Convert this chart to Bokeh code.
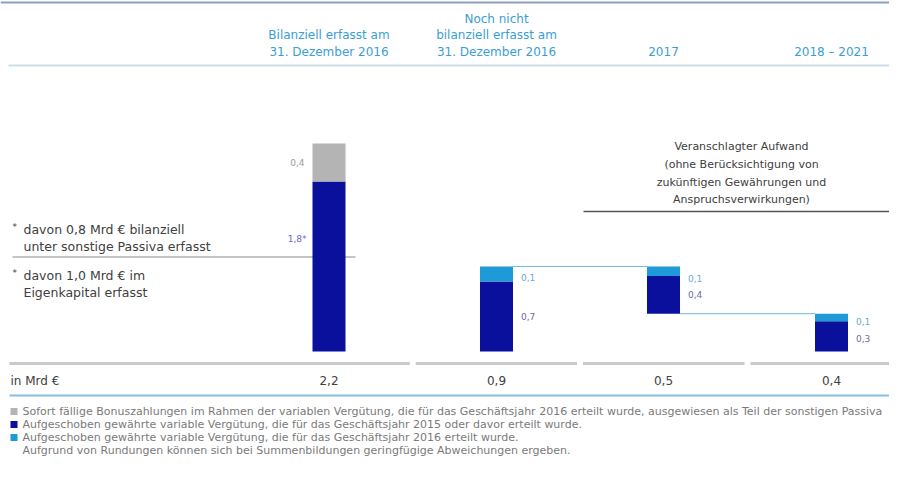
from bokeh.plotting import figure
from bokeh.models import Range1d, ColumnDataSource
from bokeh.core.properties import value
from bokeh.embed import file_html
from bokeh.resources import INLINE

# ---------------- data ----------------
categories = ["Bilanziell erfasst am\n31. Dezember 2016",
              "Noch nicht\nbilanziell erfasst am\n31. Dezember 2016",
              "2017", "2018 – 2021"]
base_vals = [0.0, 0.0, 0.40, 0.0]
gray_vals = [0.40, 0.0, 0.0, 0.0]
dark_vals = [1.80, 0.74, 0.40, 0.32]
light_vals = [0.0, 0.16, 0.10, 0.08]
gray_labels = ["0,4", "", "", ""]
dark_labels = ["1,8*", "0,7", "0,4", "0,3"]
light_labels = ["", "0,1", "0,1", "0,1"]
totals = ["2,2", "0,9", "0,5", "0,4"]
split_value = 1.0  # 1,0 Mrd € im Eigenkapital

legend_items = [
    "Sofort fällige Bonuszahlungen im Rahmen der variablen Vergütung, die für das Geschäftsjahr 2016 erteilt wurde, ausgewiesen als Teil der sonstigen Passiva",
    "Aufgeschoben gewährte variable Vergütung, die für das Geschäftsjahr 2015 oder davor erteilt wurde.",
    "Aufgeschoben gewährte variable Vergütung, die für das Geschäftsjahr 2016 erteilt wurde.",
]
footnote = "Aufgrund von Rundungen können sich bei Summenbildungen geringfügige Abweichungen ergeben."
note_upper = ["davon 0,8 Mrd € bilanziell", "unter sonstige Passiva erfasst"]
note_lower = ["davon 1,0 Mrd € im", "Eigenkapital erfasst"]
annotation = ["Veranschlagter Aufwand", "(ohne Berücksichtigung von",
              "zukünftigen Gewährungen und", "Anspruchsverwirkungen)"]
unit_label = "in Mrd €"

# ---------------- style / layout ----------------
FONT = value("DejaVu Sans")
DARK = "#0a0f9c"
LIGHT = "#1f9ad9"
GRAY = "#b4b4b4"
HEAD = "#3a9ed4"
TXT = "#404040"

W, H = 889, 461
centers = [328.5, 496, 663, 831]
bar_w = 33
base_px = 351.0
px_per_unit = 94.5

p = figure(width=W, height=H, output_backend="svg", toolbar_location=None,
           x_range=Range1d(0, W), y_range=Range1d(H, 0),
           min_border=0, outline_line_color=None)
p.xaxis.visible = False
p.yaxis.visible = False
p.grid.visible = False
p.background_fill_color = "white"

# value range (bars) mapped onto the same pixels
v_bottom = -(H - base_px) / px_per_unit
v_top = base_px / px_per_unit
p.extra_y_ranges = {"val": Range1d(v_bottom, v_top)}

# top rules
p.segment(x0=[0], x1=[W], y0=[2], y1=[2], line_color="#8d9fbf", line_width=2)
p.segment(x0=[8], x1=[W], y0=[65], y1=[65], line_color="#cbdde6", line_width=2)

# header texts
head_lines = [c.split("\n") for c in categories]
for cx, lines in zip(centers, head_lines):
    n = len(lines)
    ys = [51 - 16.5 * (n - 1 - i) for i in range(n)]
    p.text(x=[cx] * n, y=ys, text=lines, text_align="center", text_baseline="middle",
           text_font=FONT, text_font_size="12px", text_color=HEAD)

# annotation block
p.text(x=[741] * 4, y=[146, 164, 182, 199], text=annotation, text_align="center",
       text_baseline="middle", text_font=FONT, text_font_size="11px", text_color=TXT)
p.segment(x0=[583], x1=[W], y0=[211], y1=[211], line_color="#555555", line_width=1.5)

# left notes
p.text(x=[23, 23], y=[229, 246], text=note_upper, text_align="left", text_baseline="middle",
       text_font=FONT, text_font_size="12.5px", text_color=TXT)
p.text(x=[23, 23], y=[275, 292], text=note_lower, text_align="left", text_baseline="middle",
       text_font=FONT, text_font_size="12.5px", text_color=TXT)
p.text(x=[12, 12], y=[226, 272], text=["*", "*"], text_align="left", text_baseline="middle",
       text_font=FONT, text_font_size="9px", text_color=TXT)
p.segment(x0=[12], x1=[355], y0=[split_value], y1=[split_value], y_range_name="val",
          line_color="#8a8a8a", line_width=1)

# bars
b0 = base_vals
b1 = [b + d for b, d in zip(base_vals, dark_vals)]
b2 = [b + l for b, l in zip(b1, light_vals)]
b3 = [b + g for b, g in zip(b2, gray_vals)]
src = ColumnDataSource(dict(x=centers, b0=b0, b1=b1, b2=b2, b3=b3))
p.vbar(x="x", width=bar_w, bottom="b0", top="b1", source=src, y_range_name="val",
       fill_color=DARK, line_color=None)
p.vbar(x="x", width=bar_w, bottom="b1", top="b2", source=src, y_range_name="val",
       fill_color=LIGHT, line_color=None)
p.vbar(x="x", width=bar_w, bottom="b2", top="b3", source=src, y_range_name="val",
       fill_color=GRAY, line_color=None)

# waterfall connectors
half = bar_w / 2
p.segment(x0=[centers[1] + half, centers[2] + half], x1=[centers[2] - half, centers[3] - half],
          y0=[b2[1], b0[2]], y1=[b2[1], b0[2]], y_range_name="val",
          line_color="#6cb9e2", line_width=1)

# segment labels
p.text(x=[centers[0] - half - 8], y=[(b2[0] + b3[0]) / 2], text=[gray_labels[0]],
       y_range_name="val", text_align="right", text_baseline="middle",
       text_font=FONT, text_font_size="9px", text_color="#9a9a9a")
p.text(x=[centers[0] - half - 6], y=[split_value], text=[dark_labels[0]], y_offset=[-18],
       y_range_name="val", text_align="right", text_baseline="middle",
       text_font=FONT, text_font_size="9px", text_color="#6a6ad0")
lx = [c + half + 8 for c in centers[1:]]
light_y = [b2[i] for i in range(1, 4)]
dark_mid = [(b0[i] + b1[i]) / 2 for i in range(1, 4)]
p.text(x=lx, y=light_y, text=light_labels[1:], y_offset=[11, 12, 8],
       y_range_name="val", text_align="left", text_baseline="middle",
       text_font=FONT, text_font_size="9px", text_color="#6fa8d6")
p.text(x=lx, y=dark_mid, text=dark_labels[1:], y_offset=[0, 0, 2],
       y_range_name="val", text_align="left", text_baseline="middle",
       text_font=FONT, text_font_size="9px", text_color="#6a6aa8")

# separator row under bars
bounds = [9] + [(centers[i] + centers[i + 1]) / 2 for i in range(3)] + [W]
p.segment(x0=[bounds[i] + (0 if i == 0 else 3) for i in range(4)],
          x1=[bounds[i + 1] - (0 if i == 3 else 3) for i in range(4)],
          y0=[363] * 4, y1=[363] * 4, line_color="#c9c9c9", line_width=3)

# totals row
p.text(x=[10], y=[380], text=[unit_label], text_align="left", text_baseline="middle",
       text_font=FONT, text_font_size="12px", text_color=TXT)
p.text(x=centers, y=[380] * 4, text=totals, text_align="center", text_baseline="middle",
       text_font=FONT, text_font_size="12px", text_color=TXT)
p.segment(x0=[9], x1=[W], y0=[395], y1=[395], line_color="#86c0de", line_width=2)

# legend
leg_y = [411, 424, 437]
p.rect(x=[13.5] * 3, y=leg_y, width=7, height=7, fill_color=[GRAY, DARK, LIGHT], line_color=None)
p.text(x=[22] * 3, y=leg_y, text=legend_items, text_align="left", text_baseline="middle",
       text_font=FONT, text_font_size="11px", text_color="#7a7a7a")
p.text(x=[22], y=[450], text=[footnote], text_align="left", text_baseline="middle",
       text_font=FONT, text_font_size="11px", text_color="#7a7a7a")

open("out.html", "w").write(file_html(p, INLINE))
